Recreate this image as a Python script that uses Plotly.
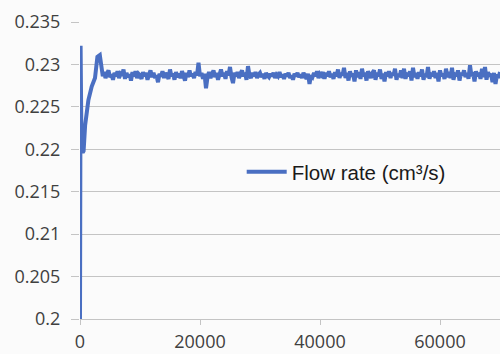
import numpy as np
import plotly.graph_objects as go

# transient part
t_start = [0, 100, 250, 450, 600, 850, 1400, 1950, 2500, 2900, 3300, 3600, 3800]
q_start = [0.2000, 0.2322, 0.2200, 0.2196, 0.2198, 0.2228, 0.2258, 0.2274, 0.2284, 0.2309, 0.2311, 0.2292, 0.2286]

# steady part, sampled every 250 from 4000 to 70000
t_steady = list(range(4000, 70001, 250))
q_steady = [
    0.2291, 0.2284, 0.2289, 0.2293, 0.2285, 0.2288, 0.2282, 0.2290, 0.2286, 0.2292,
    0.2284, 0.2289, 0.2287, 0.2294, 0.2283, 0.2290, 0.2285, 0.2288, 0.2281, 0.2291,
    0.2286, 0.2292, 0.2284, 0.2289, 0.2287, 0.2283, 0.2291, 0.2286, 0.2290, 0.2282,
    0.2288, 0.2293, 0.2285, 0.2290, 0.2284, 0.2287, 0.2279, 0.2289, 0.2286, 0.2292,
    0.2284, 0.2290, 0.2287, 0.2283, 0.2294, 0.2286, 0.2289, 0.2282, 0.2291, 0.2285,
    0.2289, 0.2284, 0.2292, 0.2287, 0.2281, 0.2290, 0.2285, 0.2293, 0.2286, 0.2289,
    0.2284, 0.2291, 0.2287, 0.2302, 0.2286, 0.2290, 0.2283, 0.2289, 0.2272, 0.2285,
    0.2291, 0.2284, 0.2289, 0.2293, 0.2285, 0.2290, 0.2282, 0.2288, 0.2294, 0.2286,
    0.2290, 0.2283, 0.2292, 0.2287, 0.2297, 0.2285, 0.2278, 0.2290, 0.2286, 0.2291,
    0.2284, 0.2289, 0.2293, 0.2286, 0.2290, 0.2282, 0.2298, 0.2287, 0.2284, 0.2290,
    0.2286, 0.2291, 0.2284, 0.2288, 0.2290, 0.2285, 0.2289, 0.2283, 0.2290, 0.2287,
    0.2285, 0.2289, 0.2286, 0.2290, 0.2284, 0.2288, 0.2286, 0.2291, 0.2285, 0.2288,
    0.2283, 0.2289, 0.2286, 0.2290, 0.2284, 0.2287, 0.2282, 0.2289, 0.2286, 0.2290,
    0.2285, 0.2288, 0.2284, 0.2290, 0.2286, 0.2283, 0.2289, 0.2277, 0.2287, 0.2285,
    0.2290, 0.2286, 0.2292, 0.2284, 0.2289, 0.2287, 0.2291, 0.2283, 0.2290, 0.2286,
    0.2292, 0.2285, 0.2289, 0.2283, 0.2291, 0.2286, 0.2294, 0.2284, 0.2290, 0.2287,
    0.2296, 0.2284, 0.2290, 0.2281, 0.2292, 0.2286, 0.2289, 0.2280, 0.2293, 0.2285,
    0.2291, 0.2283, 0.2295, 0.2286, 0.2290, 0.2281, 0.2292, 0.2287, 0.2284, 0.2290,
    0.2293, 0.2282, 0.2290, 0.2286, 0.2294, 0.2283, 0.2289, 0.2280, 0.2291, 0.2286,
    0.2292, 0.2284, 0.2290, 0.2287, 0.2295, 0.2282, 0.2289, 0.2285, 0.2293, 0.2284,
    0.2295, 0.2283, 0.2290, 0.2286, 0.2292, 0.2281, 0.2296, 0.2285, 0.2290, 0.2283,
    0.2291, 0.2286, 0.2294, 0.2282, 0.2289, 0.2285, 0.2297, 0.2283, 0.2290, 0.2286,
    0.2292, 0.2284, 0.2290, 0.2280, 0.2293, 0.2286, 0.2289, 0.2283, 0.2295, 0.2285,
    0.2291, 0.2284, 0.2296, 0.2282, 0.2290, 0.2286, 0.2293, 0.2281, 0.2290, 0.2287,
    0.2293, 0.2285, 0.2290, 0.2283, 0.2299, 0.2286, 0.2291, 0.2280, 0.2292, 0.2286,
    0.2290, 0.2283, 0.2295, 0.2285, 0.2297, 0.2282, 0.2291, 0.2286, 0.2289, 0.2279,
    0.2290, 0.2277, 0.2288, 0.2284, 0.2291,
]

x_ticks = [0, 20000, 40000, 60000]
x_labels = ["0", "20000", "40000", "60000"]
y_ticks = [0.2, 0.205, 0.21, 0.215, 0.22, 0.225, 0.23, 0.235]
y_labels = ["0.2", "0.205", "0.21", "0.215", "0.22", "0.225", "0.23", "0.235"]

series_name = "Flow rate (cm³/s)"

t = t_start + t_steady
q = q_start + q_steady

fig = go.Figure()
fig.add_trace(go.Scatter(x=t, y=q, mode="lines", name=series_name,
                         line=dict(color="#4a6fc2", width=4)))

grid = "#c4c4c4"
font_col = "#404040"
fig.update_layout(
    width=500, height=354,
    margin=dict(l=80, r=0, t=22, b=35, autoexpand=False),
    paper_bgcolor="#fbfbfb", plot_bgcolor="#fbfbfb",
    font=dict(family="Open Sans", size=18, color=font_col),
    showlegend=True,
    legend=dict(x=0.385, y=0.495, xanchor="left", yanchor="middle",
                bgcolor="rgba(0,0,0,0)",
                font=dict(family="Liberation Sans, Arial", size=20.5, color="#1a1a1a"),
                itemwidth=40),
    xaxis=dict(range=[0, 70000], tickvals=x_ticks, ticktext=x_labels,
               showgrid=False, zeroline=False, showline=True, linecolor=grid,
               ticks="outside", ticklen=5, tickcolor=grid, ticklabelstandoff=1,
               automargin=False),
    yaxis=dict(range=[0.2, 0.235], tickvals=y_ticks, ticktext=y_labels,
               showgrid=True, gridcolor=grid, zeroline=False, showline=False,
               ticks="outside", ticklen=8, tickcolor=grid, ticklabelstandoff=7,
               automargin=False),
)

fig.write_html("out.html")
